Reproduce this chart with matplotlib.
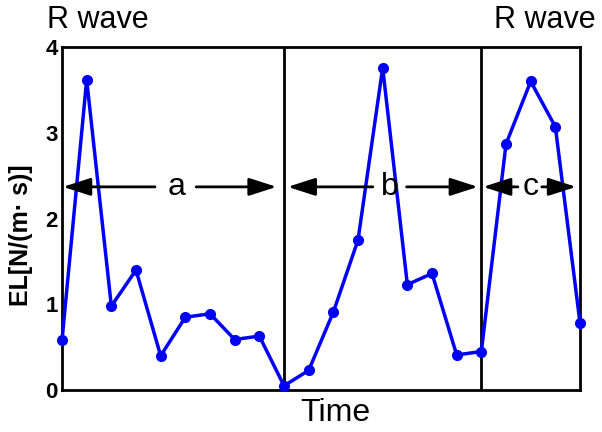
import matplotlib
matplotlib.use("Agg")
import matplotlib.pyplot as plt

plt.rcParams['font.family'] = ['Liberation Sans', 'DejaVu Sans']

values = [0.58, 3.62, 0.98, 1.40, 0.40, 0.85, 0.89, 0.59, 0.63, 0.05,
          0.23, 0.91, 1.75, 3.76, 1.23, 1.36, 0.41, 0.45,
          2.87, 3.60, 3.07, 0.78]
boundaries = [9, 17]
segments = [("a", 0, 9, 4.64), ("b", 9, 17, 13.3), ("c", 17, 21, 19.0)]
yticks = [0, 1, 2, 3, 4]

fig = plt.figure(figsize=(6.02, 4.32), dpi=100)
ax = fig.add_axes([0.103, 0.097, 0.8605, 0.794])

x = list(range(len(values)))
ax.plot(x, values, color='#0000f5', lw=2.5, marker='o', ms=7, clip_on=False, zorder=3)

for b in boundaries:
    ax.axvline(b, color='black', lw=2, zorder=2)

ax.set_xlim(0, len(values) - 1)
ax.set_ylim(0, 4)
ax.set_yticks(yticks)
ax.set_yticklabels([str(t) for t in yticks], fontsize=16, fontweight='bold')
ax.set_xticks([])
ax.tick_params(axis='y', length=0, pad=3)
for s in ax.spines.values():
    s.set_linewidth(2)
    s.set_color('black')

fig.text(21 / 602, 1 - 235 / 432, "EL[N/(m\u00b7 s)]", fontsize=18, fontweight='bold',
         rotation=90, ha='center', va='center')
fig.text(335 / 602, 1 - 421 / 432, "Time", fontsize=23, ha='center', va='baseline')

arrow_y = 2.37
gaps = {"a": (0.87, 0.8), "b": (0.7, 0.67), "c": (0.52, 0.45)}
ends = {"a": (0.04, 8.7), "b": (9.15, 16.86), "c": (17.07, 20.84)}
style = dict(arrowstyle='-|>,head_length=1.4,head_width=0.45', color='black', lw=2,
             mutation_scale=12, shrinkA=0, shrinkB=0)
for lab, x0, x1, xc in segments:
    gl, gr = gaps[lab]
    el, er = ends[lab]
    ax.annotate("", xy=(el, arrow_y), xytext=(xc - gl, arrow_y), arrowprops=style, zorder=4)
    ax.annotate("", xy=(er, arrow_y), xytext=(xc + gr, arrow_y), arrowprops=style, zorder=4)
    ax.text(xc, arrow_y, lab, fontsize=23, ha='center', va='center', zorder=5)

fig.text(47 / 602, 1 - 28 / 432, "R wave", fontsize=22, ha='left', va='baseline')
fig.text(596 / 602, 1 - 28 / 432, "R wave", fontsize=22, ha='right', va='baseline')

fig.savefig("out.png", dpi=100)
